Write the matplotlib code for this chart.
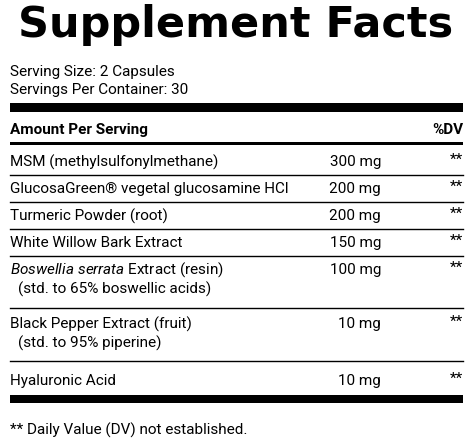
import matplotlib
matplotlib.use("Agg")
import matplotlib.pyplot as plt
plt.rcParams["mathtext.fontset"] = "custom"
plt.rcParams["mathtext.rm"] = "Roboto"
plt.rcParams["mathtext.it"] = "Roboto:italic"

title = "Supplement Facts"
serving_lines = ["Serving Size: 2 Capsules", "Servings Per Container: 30"]
header = ["Amount Per Serving", "%DV"]
names = ["MSM (methylsulfonylmethane)", "GlucosaGreen® vegetal glucosamine HCl",
         "Turmeric Powder (root)", "White Willow Bark Extract",
         "$\\it{Boswellia\\ serrata}$ Extract (resin)", "Black Pepper Extract (fruit)",
         "Hyaluronic Acid"]
sublines = ["", "", "", "", "(std. to 65% boswellic acids)", "(std. to 95% piperine)", ""]
amounts = ["300 mg", "200 mg", "200 mg", "150 mg", "100 mg", "10 mg", "10 mg"]
dv = ["**"] * 7
footnote = "** Daily Value (DV) not established."

fig = plt.figure(figsize=(4.73, 4.48), dpi=100)
ax = fig.add_axes([0, 0, 1, 1])
ax.set_xlim(0, 473); ax.set_ylim(448, 0); ax.axis("off")
L, R = 10, 463
fam = ["Roboto", "DejaVu Sans"]
fs = 11

ax.text(236, 25, title, ha="center", va="center", fontsize=31, fontweight="heavy",
        family=["DejaVu Sans"], color="black")
ax.text(L, 72, serving_lines[0], va="center", fontsize=fs, family=fam)
ax.text(L, 90, serving_lines[1], va="center", fontsize=fs, family=fam)
ax.add_patch(plt.Rectangle((L, 103), R - L, 9, color="black", lw=0))
ax.text(L, 130, header[0], va="center", fontsize=fs, fontweight="bold", family=fam)
ax.text(R, 130, header[1], va="center", ha="right", fontsize=fs, fontweight="bold", family=fam)
ax.add_patch(plt.Rectangle((L, 142), R - L, 3, color="black", lw=0))

tops = [162, 189, 216, 243, 270, 324, 381]
bottoms = [175, 202, 229, 256, 308, 361]
for i in range(len(names)):
    y = tops[i]
    ax.text(L, y, names[i], va="center", fontsize=fs, family=fam)
    if sublines[i]:
        ax.text(L + 8, y + 19, sublines[i], va="center", fontsize=fs, family=fam)
    ax.text(381, y, amounts[i], va="center", ha="right", fontsize=fs, family=fam)
    ax.text(R, y - 2, dv[i], va="center", ha="right", fontsize=fs, family=fam)
for b in bottoms:
    ax.plot([L, R], [b, b], color="black", lw=1)
ax.add_patch(plt.Rectangle((L, 395), R - L, 8, color="black", lw=0))
ax.text(L, 430, footnote, va="center", fontsize=fs, family=fam)

fig.savefig("out.png", dpi=100, facecolor="white")
